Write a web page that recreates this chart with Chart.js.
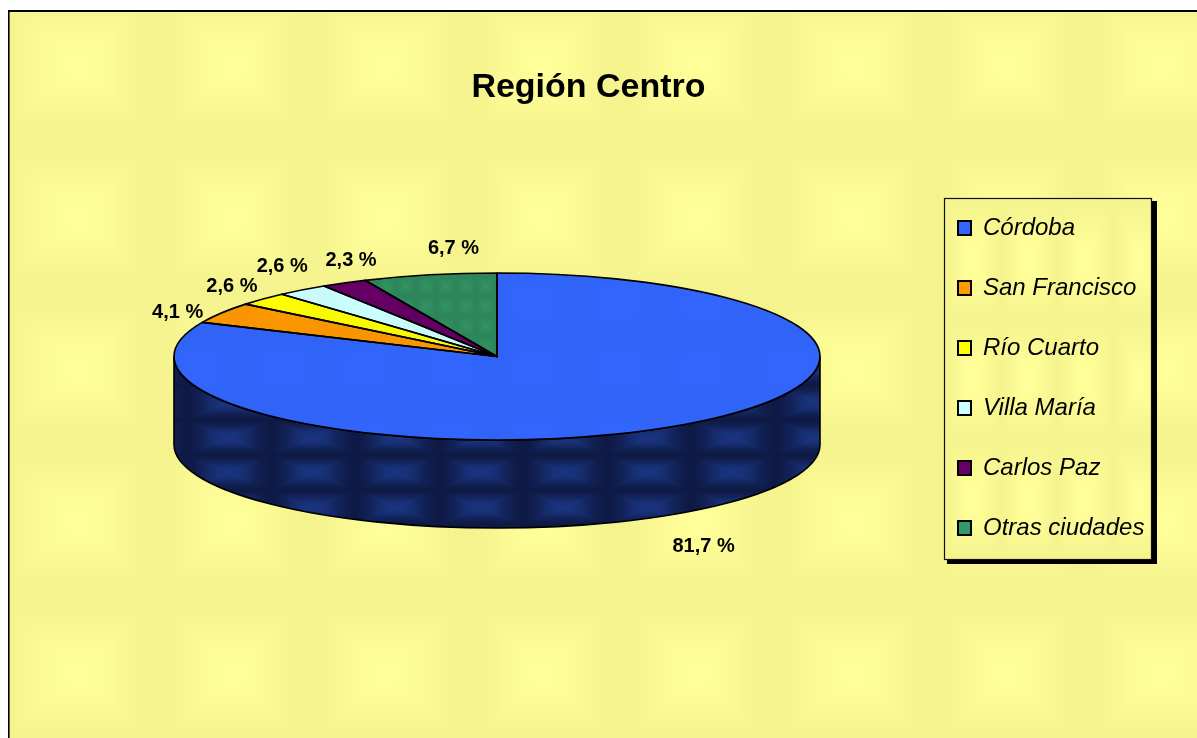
<!DOCTYPE html>
<html><head><meta charset="utf-8">
<script src="https://cdn.jsdelivr.net/npm/chart.js@4"></script>
<style>html,body{margin:0;padding:0;background:#fff;overflow:hidden}canvas{display:block}</style>
</head><body><canvas id="c" width="1197" height="738"></canvas>
<script>
const categories = ['Córdoba','San Francisco','Río Cuarto','Villa María','Carlos Paz','Otras ciudades'];
const shares = [81.7,4.1,2.6,2.6,2.3,6.7];
const valueLabels = ['81,7 %','4,1 %','2,6 %','2,6 %','2,3 %','6,7 %'];
const sliceColors = ['#3366FF','#FF9900','#FFFF00','#CCFFFF','#660066','#339966'];
const sliceDark = ['#3063F6','#F89500','#F8F800','#C8FAFA','#620062','#2D855B'];
const labelOffsets = [[31,32],[-44,0],[-31,-12],[-20,-23],[7,-22],[24,-26]];

const PIE = {cx:497, cy:356.5, rx:323, ry:83.5, depth:88};

function tile(w,h,x0,y0,bright,dark,sharp){
  const c=document.createElement('canvas');c.width=w;c.height=h;
  const g=c.getContext('2d'),img=g.createImageData(w,h);
  const hex=s=>[1,3,5].map(i=>parseInt(s.substr(i,2),16));
  const a=hex(bright),b=hex(dark);
  for(let y=0;y<h;y++)for(let x=0;x<w;x++){
    const fx=.5+.5*Math.cos(2*Math.PI*(x-x0)/w), fy=.5+.5*Math.cos(2*Math.PI*(y-y0)/h);
    const t=Math.pow(Math.min(fx,fy),sharp);
    const i=(y*w+x)*4;
    for(let k=0;k<3;k++)img.data[i+k]=b[k]+(a[k]-b[k])*t;
    img.data[i+3]=255;
  }
  g.putImageData(img,0,0);
  return c;
}
const ctx0=document.getElementById('c').getContext('2d');
const bgPattern=ctx0.createPattern(tile(155,152,77,65,'#FFFF99','#F5F38D',1.0),'repeat');
const legendPattern=ctx0.createPattern(tile(56,120,20,20,'#FFFF99','#F6F48E',1.0),'repeat');
const sidePattern=ctx0.createPattern(tile(84,35,60,17,'#1A3480','#0E1A45',0.9),'repeat');
const slicePatterns=sliceColors.map((col,i)=>ctx0.createPattern(
  i===5?tile(20,20,6,6,'#31925F',sliceDark[i],1):tile(84,70,30,20,col,sliceDark[i],1),'repeat'));

const pie3d={
  id:'pie3d',
  beforeDraw(chart){
    const c=chart.ctx;
    c.save();
    c.fillStyle='#fff';c.fillRect(0,0,1197,738);
    c.fillStyle=bgPattern;c.fillRect(8,11,1189,727);
    c.fillStyle='#000';
    c.fillRect(8,10,1189,2);c.fillRect(8,10,1.6,728);
    c.fillStyle='#000';c.fillRect(947,201,210,363);
    c.fillStyle=legendPattern;c.fillRect(944.5,198.5,207,361);
    c.strokeStyle='#111';c.lineWidth=1.2;c.strokeRect(944.5,198.5,207,361);
    c.restore();
  },
  beforeDatasetsDraw(chart){
    const c=chart.ctx,arcs=chart.getDatasetMeta(0).data;
    const {x,y,outerRadius:R}=arcs[0].getProps(['x','y','outerRadius']);
    c.save();
    c.fillStyle=sidePattern;
    arcs.forEach(a=>{
      const s=Math.max(a.startAngle,0), e=Math.min(a.endAngle,Math.PI);
      if(e<=s)return;
      c.beginPath();
      c.ellipse(PIE.cx,PIE.cy,PIE.rx,PIE.ry,0,s,e);
      c.ellipse(PIE.cx,PIE.cy+PIE.depth,PIE.rx,PIE.ry,0,e,s,true);
      c.closePath();c.fill();
      c.strokeStyle='#000';c.lineWidth=1.6;c.stroke();
    });
    c.restore();
    c.save();
    c.translate(PIE.cx,PIE.cy);c.scale(PIE.rx/R,PIE.ry/R);c.translate(-x,-y);
    const inv=c.getTransform().inverse();
    slicePatterns.forEach(p=>p.setTransform(inv));
  },
  afterDatasetsDraw(chart){
    const c=chart.ctx,arcs=chart.getDatasetMeta(0).data;
    c.restore();
    c.save();
    c.strokeStyle='#000';c.lineWidth=1.7;c.lineJoin='round';
    arcs.forEach(a=>{
      c.beginPath();c.moveTo(PIE.cx,PIE.cy);
      c.ellipse(PIE.cx,PIE.cy,PIE.rx,PIE.ry,0,a.startAngle,a.endAngle);
      c.closePath();c.stroke();
    });
    c.font='bold 20px "Liberation Sans",Arial,sans-serif';
    c.fillStyle='#000';c.textAlign='center';c.textBaseline='middle';
    arcs.forEach((a,i)=>{
      const m=(a.startAngle+a.endAngle)/2;
      let px=PIE.cx+PIE.rx*Math.cos(m),py=PIE.cy+PIE.ry*Math.sin(m);
      if(Math.sin(m)>0)py+=PIE.depth;
      c.fillText(valueLabels[i],px+labelOffsets[i][0],py+labelOffsets[i][1]);
    });
    c.restore();
  },
  afterLayout(chart){
    const l=chart.legend;
    const w=l.width,h=l.height;
    l.left=922;l.right=922+w;l.top=180;l.bottom=180+h;
  }
};

new Chart(document.getElementById('c'),{
  type:'pie',
  data:{labels:categories,datasets:[{data:shares,backgroundColor:slicePatterns,borderWidth:0,clip:false}]},
  plugins:[pie3d],
  options:{
    responsive:false,animation:false,events:[],
    layout:{padding:{left:0,right:20}},
    plugins:{
      tooltip:{enabled:false},
      title:{display:true,text:'Región Centro',color:'#000',padding:{top:67,bottom:10},
        font:{family:'"Liberation Sans",Arial,sans-serif',size:34,weight:'bold'}},
      legend:{position:'right',align:'start',labels:{
        color:'#000',boxWidth:13,boxHeight:14,padding:36,
        font:{family:'"Liberation Sans",Arial,sans-serif',size:24,style:'italic'},
        generateLabels(chart){
          return categories.map((t,i)=>({text:t,fillStyle:sliceColors[i],strokeStyle:'#000',lineWidth:2,index:i,hidden:false}));
        }
      }}
    }
  }
});
</script></body></html>
